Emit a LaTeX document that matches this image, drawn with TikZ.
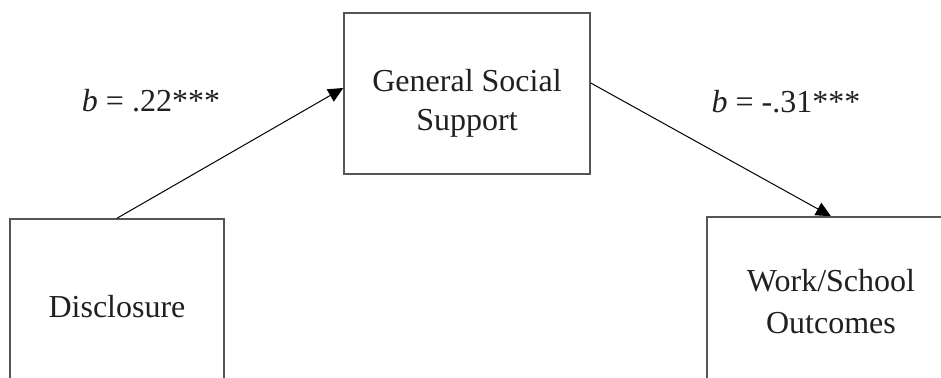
\documentclass[tikz,border=0pt]{standalone}
\usepackage{fontspec}
\setmainfont{Liberation Serif}
\usetikzlibrary{arrows.meta}
\definecolor{boxline}{HTML}{555555}
\definecolor{inktext}{HTML}{231F20}
\tikzset{
  varbox/.style={draw=boxline, line width=1.5pt, inner sep=0pt, rectangle},
  vartext/.style={inner sep=0pt, align=center, text=inktext,
    font=\fontsize{32}{39}\selectfont},
  coef/.style={inner sep=0pt, anchor=base, text=inktext,
    font=\fontsize{32}{39}\selectfont},
  path/.style={draw=black, line width=1pt,
    -{Triangle[length=15pt, width=14pt]}}
}
\begin{document}
\begin{tikzpicture}[x=1pt, y=-1pt]
  \useasboundingbox (0,0) rectangle (941,377);
  \clip (0,0) rectangle (941,377);
  \fill[white] (0,0) rectangle (941,377);

  % variable boxes
  \node[varbox, minimum width=214pt, minimum height=176pt] (disc) at (117,307) {};
  \node[varbox, minimum width=246pt, minimum height=161pt] (gss) at (467,93.5) {};
  \node[varbox, minimum width=248pt, minimum height=178pt] (work) at (831,306) {};

  % box labels
  \node[vartext] (disctxt) at (117,307) {Disclosure};
  \node[vartext] (gsstxt) at (467,103) {General Social\\Support};
  \node[vartext, font=\fontsize{32}{42}\selectfont] (worktxt) at (831,301.5) {Work/School\\Outcomes};

  % paths
  \draw[path] (disc.north) -- ([yshift=5.5pt]gss.west);
  \draw[path] ([yshift=10.5pt]gss.east) -- (work.north);

  % coefficients
  \node[coef] (coefa) at (151,111) {\textit{b} = .22***};
  \node[coef] (coefb) at (786,113) {\textit{b} = -.31***};
\end{tikzpicture}
\end{document}
